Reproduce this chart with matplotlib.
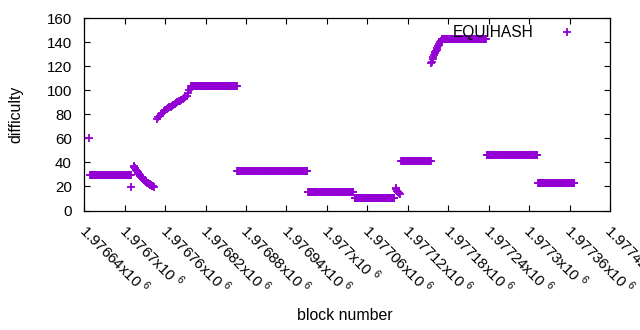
"""Recreate the EQUIHASH difficulty-by-block chart (gnuplot look)."""
import matplotlib
matplotlib.use('Agg')
import matplotlib.pyplot as plt
import matplotlib.transforms as mtransforms
import numpy as np

plt.rcParams['font.family'] = ['Liberation Sans', 'DejaVu Sans']
plt.rcParams['mathtext.fontset'] = 'custom'
plt.rcParams['mathtext.rm'] = 'Liberation Sans'

COLOR = '#9400d3'

# flat runs of constant difficulty: first block, last block, difficulty
run_start = [1976649, 1976799, 1976867, 1976972, 1977041, 1977110, 1977170, 1977237, 1977313]
run_end = [1976709, 1976866, 1976971, 1977039, 1977100, 1977154, 1977236, 1977312, 1977367]
run_diff = [29.5, 103.3, 32.6, 15.8, 10.1, 40.9, 142.7, 45.9, 22.6]

# single blocks and transitions between runs
pt_block = [1976647, 1976710,
            1976713, 1976714, 1976715, 1976716, 1976717, 1976718, 1976719, 1976720,
            1976721, 1976722, 1976723, 1976724, 1976725, 1976726, 1976727, 1976728,
            1976729, 1976730, 1976731, 1976732, 1976733, 1976734, 1976735, 1976736,
            1976737, 1976738, 1976739, 1976740, 1976741, 1976742, 1976743,
            1976748, 1976750, 1976752, 1976754, 1976756, 1976758, 1976760, 1976762,
            1976764, 1976766, 1976768, 1976770, 1976772, 1976774, 1976776, 1976778,
            1976780, 1976782, 1976784, 1976786, 1976788, 1976790, 1976792, 1976794,
            1976796, 1976798,
            1977102, 1977103, 1977104, 1977105, 1977106, 1977107, 1977108,
            1977155, 1977156, 1977157, 1977158, 1977159, 1977160, 1977161, 1977162,
            1977163, 1977164, 1977165, 1977166, 1977167, 1977168, 1977169]
pt_diff = [60.1, 19.3,
           37.0, 36.0, 35.0, 34.0, 33.3, 32.5, 31.8, 31.0,
           30.3, 29.6, 29.0, 28.3, 27.7, 27.1, 26.5, 25.6,
           25.2, 24.7, 24.2, 23.8, 23.3, 22.9, 22.5, 22.1,
           21.7, 21.3, 21.0, 20.6, 20.3, 20.0, 19.6,
           76.5, 77.5, 79.0, 80.5, 81.5, 82.5, 83.5, 84.5,
           85.0, 86.0, 86.5, 87.0, 88.0, 88.5, 89.5, 90.0,
           91.0, 91.5, 92.0, 92.5, 93.5, 94.5, 95.5, 98.0,
           100.0, 102.0,
           18.5, 17.5, 16.5, 15.8, 15.0, 14.3, 13.5,
           122.5, 124.0, 126.0, 128.0, 129.5, 130.8, 132.0, 133.0,
           134.0, 135.5, 137.0, 138.0, 139.0, 140.0, 141.5]

xtick_values = list(range(1976640, 1977421, 60))
ytick_values = list(range(0, 161, 20))


def main():
    blocks = list(pt_block)
    diffs = list(pt_diff)
    for start, end, d in zip(run_start, run_end, run_diff):
        run = np.arange(start, end + 1)
        blocks.extend(run)
        diffs.extend([d] * len(run))

    fig = plt.figure(figsize=(6.4, 3.3), dpi=100)
    ax = fig.add_axes([84.3 / 640, 1 - 210.5 / 330, 525.7 / 640, 192.2 / 330])

    ax.plot(blocks, diffs, linestyle='none', marker='+', markersize=5.2,
            markeredgewidth=1.3, color=COLOR, label='EQUIHASH')

    ax.set_xlim(xtick_values[0], xtick_values[-1])
    ax.set_ylim(0, 160)
    ax.set_xticks(xtick_values)
    ax.set_xticklabels(['%gx10 $^{\\mathregular{6}}$' % (v / 1e6) for v in xtick_values],
                       rotation=-45, ha='left', va='top', rotation_mode='anchor')
    ax.set_yticks(ytick_values)

    ax.tick_params(direction='in', length=4, width=0.8, top=True, right=True,
                   labelsize=10.8, colors='black')
    ax.tick_params(axis='x', pad=7)
    ax.tick_params(axis='y', pad=9)
    for spine in ax.spines.values():
        spine.set_linewidth(0.9)

    # nudge the rotated labels so they start right at their tick
    shift = mtransforms.ScaledTranslation(5 / 100, 0, fig.dpi_scale_trans)
    for label in ax.get_xticklabels():
        label.set_transform(label.get_transform() + shift)

    ax.set_xlabel('block number', fontsize=11.4)
    ax.set_ylabel('difficulty', fontsize=11.4)
    ax.xaxis.set_label_coords(0.496, -0.505)
    ax.yaxis.set_label_coords(-0.115, 0.5)

    ax.legend(loc='upper right', bbox_to_anchor=(0.977, 0.965), frameon=False,
              markerfirst=False, handlelength=4, handletextpad=0.17,
              borderpad=0, borderaxespad=0, fontsize=11.2)

    plt.savefig('out.png', dpi=100, facecolor='white')
    plt.close()


if __name__ == '__main__':
    main()
